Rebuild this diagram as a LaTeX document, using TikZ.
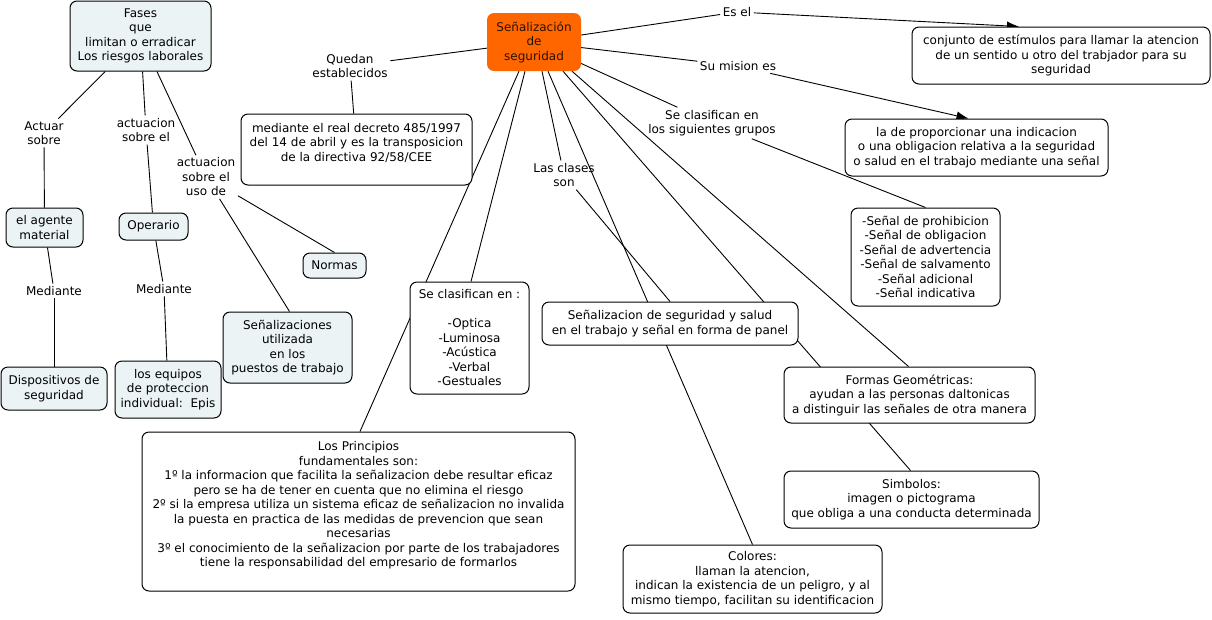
\documentclass[tikz,border=0pt]{standalone}
\usepackage{fontspec}
\setmainfont{DejaVu Sans}
\usetikzlibrary{arrows.meta,backgrounds}
\definecolor{lightfill}{HTML}{EBF3F5}
\definecolor{orangefill}{HTML}{FF6600}
\definecolor{darktext}{HTML}{2A1200}
\tikzset{
  box/.style={draw=black, line width=1pt, rounded corners=7pt, fill=white, align=center, inner sep=0pt},
  lbox/.style={box, fill=lightfill},
  mainbox/.style={rounded corners=7pt, fill=orangefill, text=darktext, align=center, inner sep=0pt},
  lab/.style={align=center, inner sep=2.5pt},
  conn/.style={draw=black, line width=0.9pt},
  arr/.style={conn, -{Latex[length=12pt,width=9pt]}}
}
\begin{document}
\begin{tikzpicture}[x=1pt,y=-1pt, font=\fontsize{12}{14.5}\selectfont]
\useasboundingbox (0,0) rectangle (1212,619);
% boxes
\node[lbox, minimum width=141, minimum height=70] (fases) at (140.5,36) {Fases\\que\\limitan o erradicar\\Los riesgos laborales};
\node[mainbox, minimum width=94, minimum height=58] (S) at (534,42) {Señalización\\de\\seguridad};
\node[box, minimum width=231, minimum height=71] (med) at (356.5,149.5) {mediante el real decreto 485/1997\\del 14 de abril y es la transposicion\\de la directiva 92/58/CEE\\\mbox{}};
\node[box, minimum width=298, minimum height=57] (conj) at (1061,55.5) {conjunto de estímulos para llamar la atencion\\de un sentido u otro del trabjador para su\\seguridad};
\node[box, minimum width=263, minimum height=57] (lade) at (976.5,147.5) {la de proporcionar una indicacion\\o una obligacion relativa a la seguridad\\o salud en el trabajo mediante una señal};
\node[box, minimum width=149, minimum height=98] (list) at (925.5,257) {-Señal de prohibicion\\-Señal de obligacion\\-Señal de advertencia\\-Señal de salvamento\\-Señal adicional\\-Señal indicativa};
\node[lbox, minimum width=77, minimum height=39] (agente) at (44.5,227.5) {el agente\\material};
\node[lbox, minimum width=69, minimum height=27] (oper) at (153.5,226.5) {Operario};
\node[lbox, minimum width=63, minimum height=25] (normas) at (334.5,265.5) {Normas};
\node[lbox, minimum width=106, minimum height=43] (disp) at (54,388.5) {Dispositivos de\\seguridad};
\node[lbox, minimum width=106, minimum height=57] (equipos) at (168,389.5) {los equipos\\de proteccion\\individual:~~Epis};
\node[lbox, minimum width=129, minimum height=71] (senz) at (287.5,347.5) {Señalizaciones\\utilizada\\en los\\puestos de trabajo};
\node[box, minimum width=119, minimum height=112] (secl) at (469.5,338) {Se clasifican en :\\\mbox{}\\-Optica\\-Luminosa\\-Acústica\\-Verbal\\-Gestuales};
\node[box, minimum width=256, minimum height=43] (ssb) at (670,323.5) {Señalizacion de seguridad y salud\\en el trabajo y señal en forma de panel};
\node[box, minimum width=251, minimum height=56] (formas) at (909.5,395) {Formas Geométricas:\\ayudan a las personas daltonicas\\a distinguir las señales de otra manera};
\node[box, minimum width=255, minimum height=57] (simb) at (911.5,499.5) {Simbolos:\\imagen o pictograma\\que obliga a una conducta determinada};
\node[box, minimum width=259, minimum height=68] (col) at (752.5,579) {Colores:\\llaman la atencion,\\indican la existencia de un peligro, y al\\mismo tiempo, facilitan su identificacion};
\node[box, minimum width=433, minimum height=159] (princ) at (358.5,511.5) {Los Principios\\fundamentales son:\\1º la informacion que facilita la señalizacion debe resultar eficaz\\pero se ha de tener en cuenta que no elimina el riesgo\\2º si la empresa utiliza un sistema eficaz de señalizacion no invalida\\la puesta en practica de las medidas de prevencion que sean\\necesarias\\3º el conocimiento de la señalizacion por parte de los trabajadores\\tiene la responsabilidad del empresario de formarlos\\\mbox{}};
% labels
\node[lab] (quedan) at (350,66) {Quedan\\establecidos};
\node[lab] (esel) at (737,12) {Es el};
\node[lab] (mision) at (738,66) {Su mision es};
\node[lab] (grupos) at (712,123) {Se clasifican en\\los siguientes grupos};
\node[lab] (clases) at (564,175) {Las clases\\son};
\node[lab] (actuar) at (44,133) {Actuar\\sobre};
\node[lab] (actsob) at (146,130) {actuacion\\sobre el};
\node[lab] (uso) at (206,177) {actuacion\\sobre el\\uso de};
\node[lab] (med1) at (54,291) {Mediante};
\node[lab] (med2) at (164,289) {Mediante};
% connectors
\begin{pgfonlayer}{background}
\draw[conn] (fases) -- (actuar);
\draw[conn] (actuar) -- (agente);
\draw[conn] (fases) -- (actsob);
\draw[conn] (actsob) -- (oper);
\draw[conn] (fases) -- (uso);
\draw[conn] (uso) -- ([xshift=2]senz.north);
\draw[conn] (uso) -- (normas.north);
\draw[conn] (agente) -- (med1);
\draw[conn] (med1) -- (disp);
\draw[conn] (oper) -- (med2);
\draw[conn] (med2) -- (equipos);
\draw[conn] (S) -- (quedan);
\draw[conn] (quedan) -- (med);
\draw[conn] (S) -- (esel);
\draw[arr] (esel) -- ([xshift=-42]conj.north);
\draw[conn] (S) -- (mision);
\draw[arr] (mision) -- ([xshift=-8]lade.north);
\draw[conn] (S) -- (grupos);
\draw[conn] (grupos) -- (list.north);
\draw[conn] ([xshift=-15]S.south) -- ([xshift=1.5]princ.north);
\draw[conn] ([xshift=-9]S.south) -- ([xshift=1.5]secl.north);
\draw[conn] ([xshift=8]S.south) -- (clases);
\draw[conn] (clases) -- (ssb.north);
\draw[conn] ([xshift=14]S.south) -- (col.north);
\draw[conn] ([xshift=29]S.south) -- ([xshift=-1]simb.north);
\draw[conn] ([xshift=38]S.south) -- ([xshift=-1]formas.north);
\end{pgfonlayer}
\end{tikzpicture}
\end{document}
